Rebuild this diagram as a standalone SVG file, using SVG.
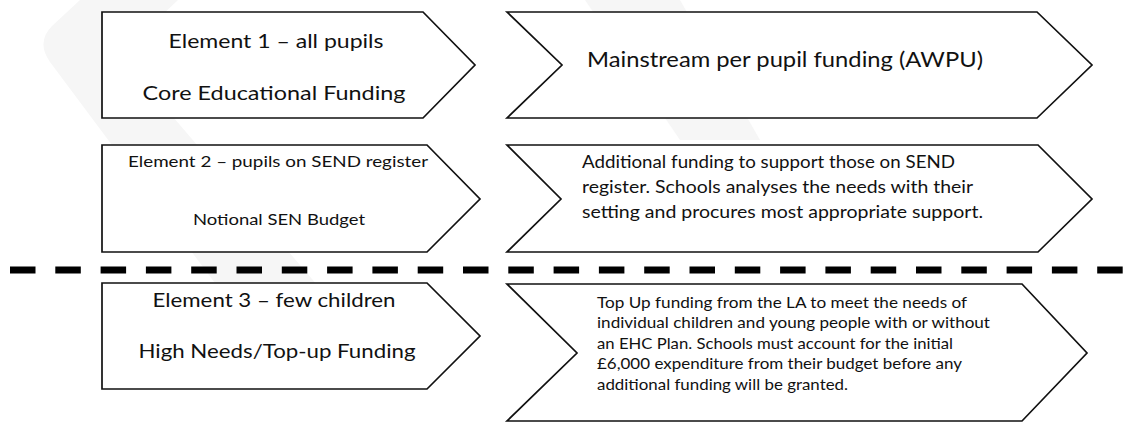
<svg xmlns="http://www.w3.org/2000/svg" width="1140" height="423" viewBox="0 0 1140 423">
  <style>
    .shape { fill: #ffffff; stroke: #111111; stroke-width: 1.7; stroke-linejoin: miter; }
    .t { font-family: Lato, "Open Sans", "Liberation Sans", sans-serif; fill: #111111; }
    .c { text-anchor: middle; }
    .wm { fill: #f6f6f6; stroke: none; }
    .divider { stroke: #000000; stroke-width: 7; stroke-dasharray: 25.5 19.8; fill: none; }
  </style>
  <rect x="0" y="0" width="1140" height="423" fill="#ffffff"/>
  <g id="watermark">
    <path class="wm" d="M 80,0 L 178,0 L 120,55 L 330,300 L 250,330 L 50,62 Q 36,42 52,26 Z"/>
    <path class="wm" d="M 585,0 L 680,0 L 760,140 L 680,140 Z"/>
  </g>
  <g id="connectors">
    <line class="divider" x1="10" y1="270" x2="1125" y2="270"/>
  </g>
  <g id="element1">
    <path class="shape" d="M102,12 L423,12 L475,65 L423,118 L102,118 Z"/>
    <text class="t c" x="276" y="48" font-size="20" textLength="215" lengthAdjust="spacingAndGlyphs">Element 1 – all pupils</text>
    <text class="t c" x="274" y="100" font-size="20" textLength="263" lengthAdjust="spacingAndGlyphs">Core Educational Funding</text>
  </g>
  <g id="awpu">
    <path class="shape" d="M507,12 L1037,12 L1092,65 L1037,118 L507,118 L562,65 Z"/>
    <text class="t" x="587" y="67" font-size="21" textLength="396" lengthAdjust="spacingAndGlyphs">Mainstream per pupil funding (AWPU)</text>
  </g>
  <g id="element2">
    <path class="shape" d="M102,145 L427,145 L480,199 L427,252 L102,252 Z"/>
    <text class="t c" x="278" y="167" font-size="16" textLength="300" lengthAdjust="spacingAndGlyphs">Element 2 – pupils on SEND register</text>
    <text class="t c" x="279" y="225" font-size="16" textLength="172" lengthAdjust="spacingAndGlyphs">Notional SEN Budget</text>
  </g>
  <g id="send">
    <path class="shape" d="M507,145 L1038,145 L1092,199 L1038,252 L507,252 L561,199 Z"/>
    <text class="t" x="582" y="168" font-size="18" textLength="373" lengthAdjust="spacingAndGlyphs">Additional funding to support those on SEND</text>
    <text class="t" x="582" y="193" font-size="18" textLength="391" lengthAdjust="spacingAndGlyphs">register. Schools analyses the needs with their</text>
    <text class="t" x="582" y="218" font-size="18" textLength="401" lengthAdjust="spacingAndGlyphs">setting and procures most appropriate support.</text>
  </g>
  <g id="element3">
    <path class="shape" d="M102,283 L427,283 L480,336 L427,389 L102,389 Z"/>
    <text class="t c" x="274" y="307" font-size="20" textLength="243" lengthAdjust="spacingAndGlyphs">Element 3 – few children</text>
    <text class="t c" x="277" y="358" font-size="20" textLength="277" lengthAdjust="spacingAndGlyphs">High Needs/Top-up Funding</text>
  </g>
  <g id="topup">
    <path class="shape" d="M507,284 L1022,284 L1087,353 L1022,421 L507,421 L577,353 Z"/>
    <text class="t" x="597" y="308" font-size="16" textLength="370" lengthAdjust="spacingAndGlyphs">Top Up funding from the LA to meet the needs of</text>
    <text class="t" x="597" y="328" font-size="16" textLength="393" lengthAdjust="spacingAndGlyphs">individual children and young people with or without</text>
    <text class="t" x="597" y="349" font-size="16" textLength="356" lengthAdjust="spacingAndGlyphs">an EHC Plan. Schools must account for the initial</text>
    <text class="t" x="597" y="369" font-size="16" textLength="365" lengthAdjust="spacingAndGlyphs">£6,000 expenditure from their budget before any</text>
    <text class="t" x="597" y="390" font-size="16" textLength="251" lengthAdjust="spacingAndGlyphs">additional funding will be granted.</text>
  </g>
</svg>
